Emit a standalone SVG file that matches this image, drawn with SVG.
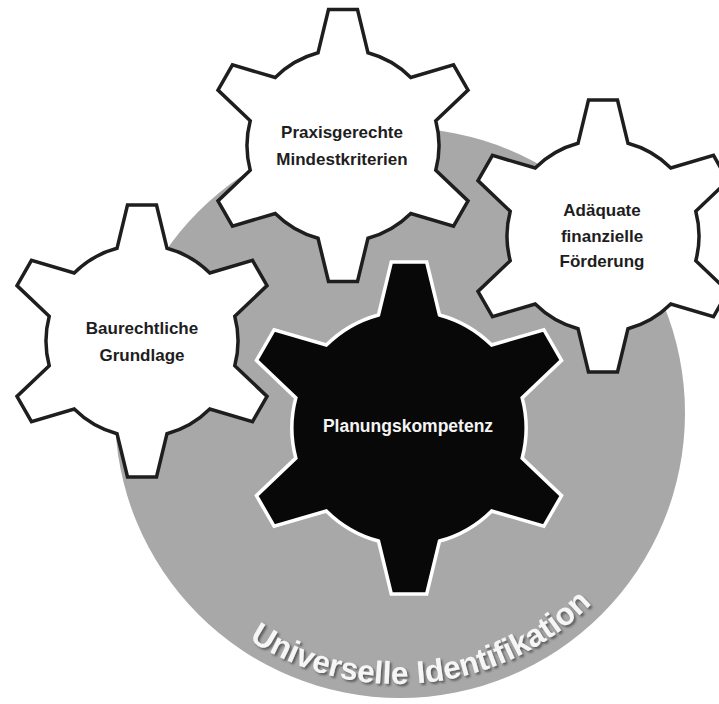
<svg xmlns="http://www.w3.org/2000/svg" xmlns:xlink="http://www.w3.org/1999/xlink" width="719" height="704" viewBox="0 0 719 704">
  <style>
    .gear { fill: #ffffff; stroke: #1e1e1e; stroke-width: 3.5; stroke-linejoin: miter; }
    .gear-main { fill: #080808; stroke: #ffffff; stroke-width: 2.9; stroke-linejoin: miter; }
    .lbl { font-family: "Liberation Sans", Arial, sans-serif; font-weight: bold; font-size: 17px; fill: #1e1e1e; text-anchor: middle; }
    .lbl-main { font-family: "Liberation Sans", Arial, sans-serif; font-weight: bold; font-size: 17.5px; fill: #f4f4f4; text-anchor: middle; }
    .arc { font-family: "Liberation Sans", Arial, sans-serif; font-weight: bold; font-size: 31.5px; fill: #f6f6f6; }
  </style>
  <defs>
    <path id="gearShape" d="M-24.99,-92.69 L-14.5,-136 L14.5,-136 L24.99,-92.69 A96,96 0 0 1 67.78,-67.99 L110.53,-80.56 L125.03,-55.44 L92.77,-24.7 A96,96 0 0 1 92.77,24.7 L125.03,55.44 L110.53,80.56 L67.78,67.99 A96,96 0 0 1 24.99,92.69 L14.5,136 L-14.5,136 L-24.99,92.69 A96,96 0 0 1 -67.78,67.99 L-110.53,80.56 L-125.03,55.44 L-92.77,24.7 A96,96 0 0 1 -92.77,-24.7 L-125.03,-55.44 L-110.53,-80.56 L-67.78,-67.99 A96,96 0 0 1 -24.99,-92.69 Z"/>
    <path id="arcPath" d="M188.1,586.1 A274,274 0 0 0 655.5,503.7"/>
    <filter id="shadow" x="-10%" y="-10%" width="120%" height="130%">
      <feDropShadow dx="2" dy="2" stdDeviation="1.2" flood-color="#555555" flood-opacity="0.9"/>
    </filter>
  </defs>

  <g id="background">
    <circle cx="400" cy="413" r="285" fill="#a8a8a8"/>
    <text class="arc" filter="url(#shadow)"><textPath xlink:href="#arcPath" href="#arcPath" startOffset="268" text-anchor="middle">Universelle Identifikation</textPath></text>
  </g>

  <g id="connectors"></g>

  <g id="node-baurecht">
    <use href="#gearShape" xlink:href="#gearShape" class="gear" transform="translate(142,341)"/>
    <text class="lbl" x="142" y="334">Baurechtliche</text>
    <text class="lbl" x="142" y="361">Grundlage</text>
  </g>

  <g id="node-praxis">
    <use href="#gearShape" xlink:href="#gearShape" class="gear" transform="translate(343,145.5)"/>
    <text class="lbl" x="342" y="138">Praxisgerechte</text>
    <text class="lbl" x="342" y="165">Mindestkriterien</text>
  </g>

  <g id="node-foerderung">
    <use href="#gearShape" xlink:href="#gearShape" class="gear" transform="translate(603,236)"/>
    <text class="lbl" x="602" y="216">Adäquate</text>
    <text class="lbl" x="602" y="242">finanzielle</text>
    <text class="lbl" x="602" y="267">Förderung</text>
  </g>

  <g id="node-planung">
    <use href="#gearShape" xlink:href="#gearShape" class="gear-main" transform="translate(409,428) scale(1.22)"/>
    <text class="lbl-main" x="408" y="432">Planungskompetenz</text>
  </g>
</svg>
